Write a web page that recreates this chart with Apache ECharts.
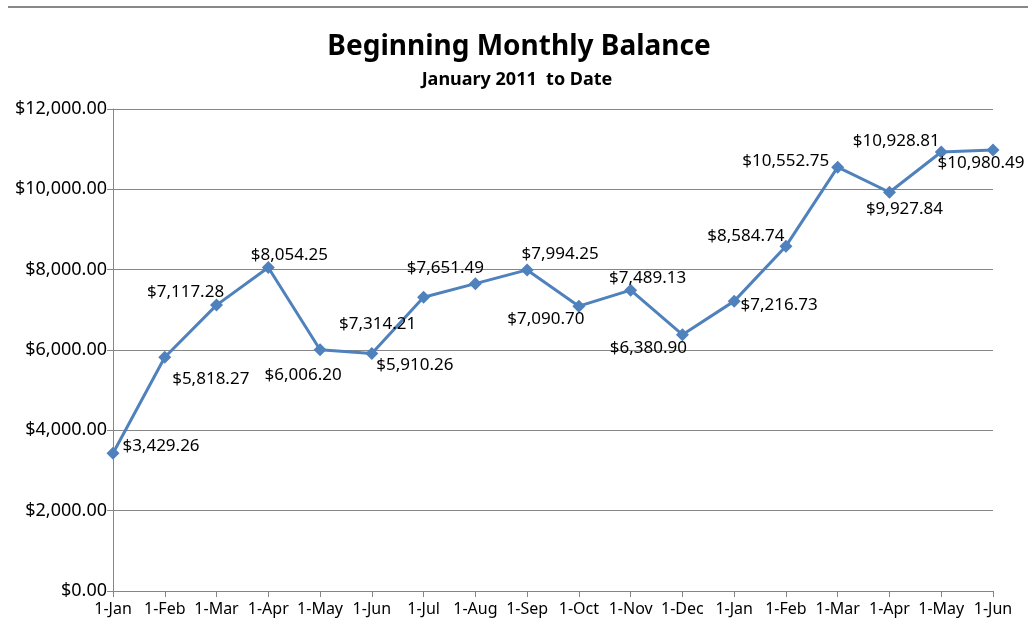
<!DOCTYPE html>
<html>
<head>
<meta charset="utf-8">
<script src="https://cdn.jsdelivr.net/npm/echarts@6/dist/echarts.min.js"></script>
<style>
  html, body { margin: 0; padding: 0; background: #ffffff; }
  #chart { width: 1028px; height: 629px; }
</style>
</head>
<body>
<div id="chart"></div>
<script>
const MONTHS = [
  "1-Jan", "1-Feb", "1-Mar", "1-Apr", "1-May", "1-Jun",
  "1-Jul", "1-Aug", "1-Sep", "1-Oct", "1-Nov", "1-Dec",
  "1-Jan", "1-Feb", "1-Mar", "1-Apr", "1-May", "1-Jun",
];
const BALANCE = [
  3429.26, 5818.27, 7117.28, 8054.25, 6006.20, 5910.26,
  7314.21, 7651.49, 7994.25, 7090.70, 7489.13, 6380.90,
  7216.73, 8584.74, 10552.75, 9927.84, 10928.81, 10980.49,
];

// where each data label's centre sits relative to its point (px), like the hand-placed Excel labels
const LABEL_OFFSETS = [
  [48, -7], [46, 22], [-31, -13], [21, -12], [-17, 25], [43, 12],
  [-46, 27], [-30, -16], [33, -16], [-33, 13], [17, -12], [-34, 13],
  [45, 4], [-40, -10], [-52, -6], [15, 17], [-45, -11], [-12, 13],
];

const FONT = "'Noto Sans', 'Open Sans', sans-serif";
const AXIS_GRAY = "#868686";
const LINE_BLUE = "#4f81bd";
const SYMBOL = 13;

const money = (v) =>
  "$" + Number(v).toLocaleString("en-US", { minimumFractionDigits: 2, maximumFractionDigits: 2 });

const ch = echarts.init(document.getElementById("chart"), null, { renderer: "canvas" });

ch.setOption({
  backgroundColor: "#ffffff",
  animation: false,
  title: [
    {
      text: "Beginning Monthly Balance",
      left: 514,
      top: 28,
      textAlign: "center",
      textStyle: { fontFamily: FONT, fontSize: 28, fontWeight: "bold", color: "#000000" },
    },
    {
      text: "January 2011  to Date",
      left: 512,
      top: 66,
      textAlign: "center",
      textStyle: { fontFamily: FONT, fontSize: 18, fontWeight: "bold", color: "#000000" },
    },
  ],
  graphic: [
    {
      type: "line",
      shape: { x1: 8, y1: 7, x2: 1028, y2: 7 },
      style: { stroke: "#888888", lineWidth: 2 },
    },
  ],
  grid: { left: 113, right: 35, top: 109, bottom: 38, containLabel: false },
  xAxis: {
    type: "category",
    data: MONTHS,
    boundaryGap: false,
    axisLine: { lineStyle: { color: AXIS_GRAY, width: 1 } },
    axisTick: { show: true, length: 6, alignWithLabel: true, interval: 0, lineStyle: { color: AXIS_GRAY } },
    axisLabel: { interval: 0, color: "#000000", fontFamily: FONT, fontSize: 16, margin: 10 },
    splitLine: { show: false },
  },
  yAxis: {
    type: "value",
    min: 0,
    max: 12000,
    interval: 2000,
    axisLine: { show: true, lineStyle: { color: AXIS_GRAY, width: 1 } },
    axisTick: { show: true, length: 6, lineStyle: { color: AXIS_GRAY } },
    axisLabel: { color: "#000000", fontFamily: FONT, fontSize: 18, margin: 6, formatter: money },
    splitLine: { show: true, lineStyle: { color: AXIS_GRAY, width: 1 } },
  },
  series: [
    {
      name: "Balance",
      type: "line",
      data: BALANCE.map((v, i) => ({
        value: v,
        label: {
          position: [SYMBOL / 2 + LABEL_OFFSETS[i][0], SYMBOL / 2 + LABEL_OFFSETS[i][1]],
        },
      })),
      symbol: "diamond",
      symbolSize: SYMBOL,
      lineStyle: { color: LINE_BLUE, width: 3 },
      itemStyle: { color: LINE_BLUE },
      label: {
        show: true,
        align: "center",
        verticalAlign: "middle",
        color: "#000000",
        fontFamily: FONT,
        fontSize: 17,
        formatter: (p) => money(p.value),
      },
      labelLayout: { hideOverlap: false },
      z: 3,
    },
  ],
});
</script>
</body>
</html>
